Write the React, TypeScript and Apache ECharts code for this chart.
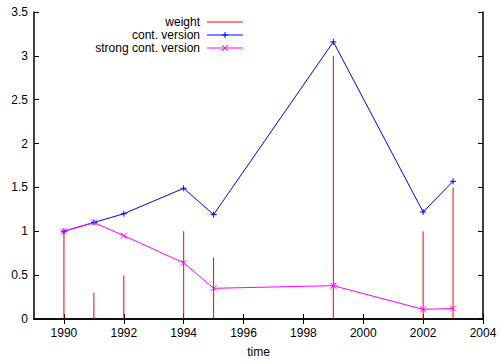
import React, { useEffect, useRef } from "react";
import * as echarts from "echarts";

const years = [1990, 1991, 1992, 1994, 1995, 1999, 2002, 2003];
const weight = [1.0, 0.3, 0.5, 1.0, 0.7, 3.0, 1.0, 1.5];
const contVersion = [1.0, 1.1, 1.2, 1.49, 1.19, 3.16, 1.22, 1.57];
const strongContVersion = [1.0, 1.1, 0.95, 0.64, 0.35, 0.38, 0.11, 0.12];
const xTicks = [1990, 1992, 1994, 1996, 1998, 2000, 2002, 2004];
const legendNames = ["weight", "cont. version", "strong cont. version"];

const FONT = "Liberation Sans, Arial, sans-serif";

export default function App() {
  const ref = useRef<HTMLDivElement>(null);
  useEffect(() => {
    if (!ref.current) return;
    const chart = echarts.init(ref.current, undefined, { renderer: "svg" });
    const plusPath = "path://M0,5L10,5M5,0L5,10";
    const crossPath = "path://M0,0L10,10M10,0L0,10";
    const axisBase = {
      type: "value" as const,
      axisLine: { show: true, lineStyle: { color: "#000", width: 1.5 } },
      splitLine: { show: false },
    };
    const legendX = 200;
    const legendLineX1 = 207;
    const legendLineX2 = 243;
    const legendYs = [22, 35, 48];
    const legendColors = ["#ff0000", "#0000ff", "#ff00ff"];
    const graphic: any[] = [];
    legendNames.forEach((n, i) => {
      graphic.push({
        type: "text",
        x: legendX,
        y: legendYs[i],
        style: {
          text: n,
          textAlign: "right",
          textVerticalAlign: "middle",
          font: `12px ${FONT}`,
          fill: "#000",
        },
      });
      graphic.push({
        type: "line",
        shape: { x1: legendLineX1, y1: legendYs[i], x2: legendLineX2, y2: legendYs[i] },
        style: { stroke: legendColors[i], lineWidth: 1 },
      });
    });
    const mx = (legendLineX1 + legendLineX2) / 2;
    graphic.push({
      type: "line",
      shape: { x1: mx - 3, y1: legendYs[1], x2: mx + 3, y2: legendYs[1] },
      style: { stroke: legendColors[1], lineWidth: 1 },
    });
    graphic.push({
      type: "line",
      shape: { x1: mx, y1: legendYs[1] - 3, x2: mx, y2: legendYs[1] + 3 },
      style: { stroke: legendColors[1], lineWidth: 1 },
    });
    graphic.push({
      type: "line",
      shape: { x1: mx - 3, y1: legendYs[2] - 3, x2: mx + 3, y2: legendYs[2] + 3 },
      style: { stroke: legendColors[2], lineWidth: 1 },
    });
    graphic.push({
      type: "line",
      shape: { x1: mx - 3, y1: legendYs[2] + 3, x2: mx + 3, y2: legendYs[2] - 3 },
      style: { stroke: legendColors[2], lineWidth: 1 },
    });

    chart.setOption({
      animation: false,
      backgroundColor: "#fff",
      textStyle: { fontFamily: FONT },
      grid: { left: 34, right: 18, top: 12, bottom: 39 },
      graphic,
      xAxis: [
        {
          ...axisBase,
          position: "bottom",
          min: 1989,
          max: 2004,
          name: "time",
          nameLocation: "middle",
          nameGap: 27,
          nameTextStyle: { color: "#000", fontSize: 12, fontFamily: FONT },
          axisTick: { show: true, inside: true, length: 5, customValues: xTicks, lineStyle: { color: "#000" } },
          axisLabel: {
            show: true,
            customValues: xTicks,
            formatter: (v: number) => String(v),
            color: "#000",
            fontSize: 12,
            fontFamily: FONT,
            margin: 8,
          },
        },
        {
          ...axisBase,
          position: "top",
          min: 1989,
          max: 2004,
          axisTick: { show: true, inside: true, length: 5, customValues: xTicks, lineStyle: { color: "#000" } },
          axisLabel: { show: false },
        },
      ],
      yAxis: [
        {
          ...axisBase,
          position: "left",
          min: 0,
          max: 3.5,
          interval: 0.5,
          axisTick: { show: true, inside: true, length: 5, lineStyle: { color: "#000" } },
          axisLabel: { show: true, color: "#000", fontSize: 12, fontFamily: FONT, margin: 6 },
        },
        {
          ...axisBase,
          position: "right",
          min: 0,
          max: 3.5,
          interval: 0.5,
          axisTick: { show: true, inside: true, length: 5, lineStyle: { color: "#000" } },
          axisLabel: { show: false },
        },
      ],
      series: [
        {
          name: legendNames[0],
          type: "bar",
          barWidth: 1,
          itemStyle: { color: "#ff0000" },
          data: years.map((y, i) => [y, weight[i]]),
        },
        {
          name: legendNames[1],
          type: "line",
          symbol: plusPath,
          symbolSize: 6,
          itemStyle: { color: "#0000ff", borderColor: "#0000ff", borderWidth: 1 },
          lineStyle: { color: "#0000ff", width: 1 },
          data: years.map((y, i) => [y, contVersion[i]]),
        },
        {
          name: legendNames[2],
          type: "line",
          symbol: crossPath,
          symbolSize: 6,
          itemStyle: { color: "#ff00ff", borderColor: "#ff00ff", borderWidth: 1 },
          lineStyle: { color: "#ff00ff", width: 1 },
          data: years.map((y, i) => [y, strongContVersion[i]]),
        },
      ],
    });
    return () => chart.dispose();
  }, []);
  return <div ref={ref} style={{ width: 501, height: 363, position: "absolute", left: 0, top: 0 }} />;
}
